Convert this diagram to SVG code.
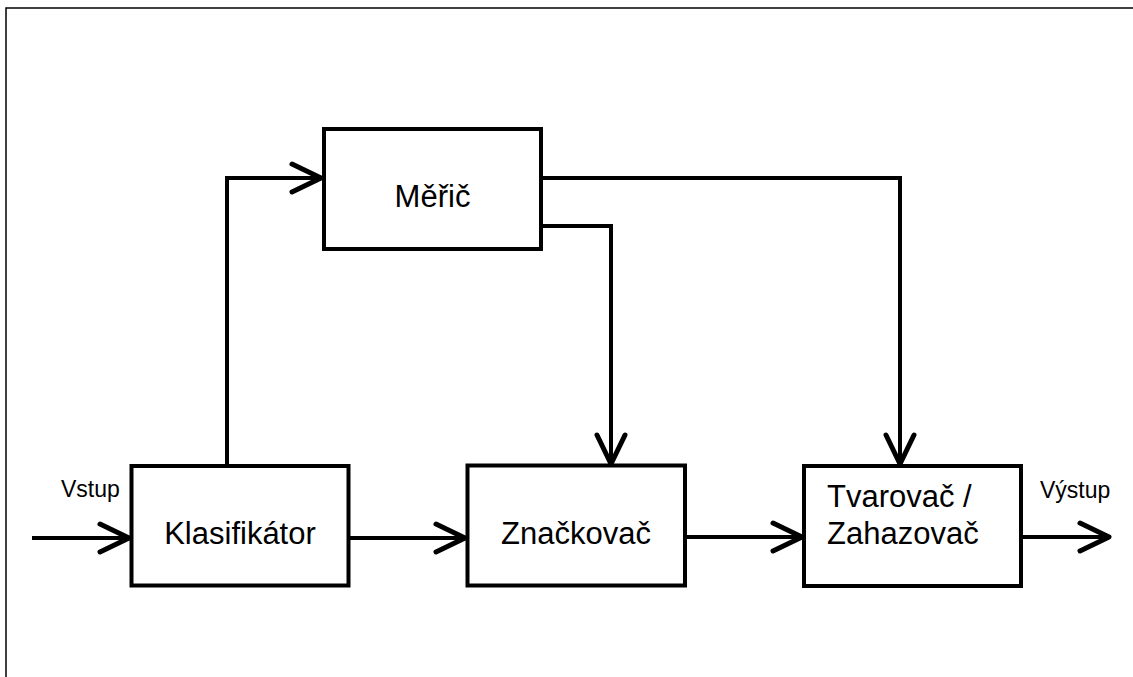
<svg xmlns="http://www.w3.org/2000/svg" width="1133" height="677" viewBox="0 0 1133 677">
  <style>
    .box { fill: #ffffff; stroke: #000000; stroke-width: 4; }
    .lbl { font-family: "Liberation Sans", Arial, sans-serif; font-size: 31px; fill: #000000; }
    .io { font-family: "Liberation Sans", Arial, sans-serif; font-size: 23px; fill: #000000; }
    .conn { fill: none; stroke: #000000; stroke-width: 4; }
    .frame { fill: none; stroke: #000000; stroke-width: 1.5; }
  </style>
  <defs>
    <marker id="chev" markerUnits="userSpaceOnUse" viewBox="-36 -20 40 40" markerWidth="40" markerHeight="40" refX="0" refY="0" orient="auto" overflow="visible">
      <path d="M-29,-14 L0,0 L-29,14" fill="none" stroke="#000000" stroke-width="5" stroke-linecap="round" stroke-linejoin="round"/>
    </marker>
  </defs>
  <rect width="1133" height="677" fill="#ffffff"/>
  <path class="frame" d="M6,677 V8 H1133"/>

  <g id="connectors">
    <path class="conn" d="M32,538 H129" marker-end="url(#chev)"/>
    <path class="conn" d="M348,538 H465" marker-end="url(#chev)"/>
    <path class="conn" d="M685,537 H802" marker-end="url(#chev)"/>
    <path class="conn" d="M1018,537 H1109" marker-end="url(#chev)"/>
    <path class="conn" d="M227,466 V178 H321" marker-end="url(#chev)"/>
    <path class="conn" d="M541,226 H611 V464" marker-end="url(#chev)"/>
    <path class="conn" d="M541,178 H900 V464" marker-end="url(#chev)"/>
  </g>

  <g id="klasifikator">
    <rect class="box" x="131.5" y="466" width="217" height="119.5"/>
    <text class="lbl" x="240" y="544" text-anchor="middle">Klasifikátor</text>
  </g>
  <g id="meric">
    <rect class="box" x="324" y="129" width="217" height="120"/>
    <text class="lbl" x="432.5" y="207" text-anchor="middle">Měřič</text>
  </g>
  <g id="znackovac">
    <rect class="box" x="467.5" y="465.5" width="217.5" height="120"/>
    <text class="lbl" x="576" y="544" text-anchor="middle">Značkovač</text>
  </g>
  <g id="tvarovac">
    <rect class="box" x="804" y="466" width="217" height="120"/>
    <text class="lbl" x="827" y="507">Tvarovač /</text>
    <text class="lbl" x="827" y="544">Zahazovač</text>
  </g>
  <g id="vstup">
    <text class="io" x="61" y="497">Vstup</text>
  </g>
  <g id="vystup">
    <text class="io" x="1040" y="498">Výstup</text>
  </g>
</svg>
